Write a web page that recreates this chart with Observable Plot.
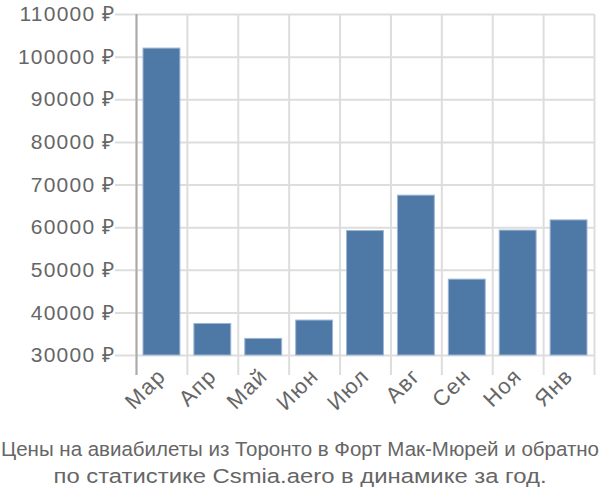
<!DOCTYPE html>
<html>
<head>
<meta charset="utf-8">
<script src="https://cdn.jsdelivr.net/npm/d3@7"></script>
<script src="https://cdn.jsdelivr.net/npm/@observablehq/plot@0.6"></script>
<style>
  body { margin: 0; background: #fff; }
  #chart svg { display: block; }
  #caption { width: 600px; }
</style>
</head>
<body>
<div id="chart"></div>
<div id="caption"></div>
<script>
const months = ["Мар", "Апр", "Май", "Июн", "Июл", "Авг", "Сен", "Ноя", "Янв"];
const prices = [102000, 37400, 33900, 38200, 59200, 67500, 47800, 59300, 61700];
const yTicks = [30000, 40000, 50000, 60000, 70000, 80000, 90000, 100000, 110000];
const captionLines = [
  "Цены на авиабилеты из Торонто в Форт Мак-Мюрей и обратно",
  "по статистике Csmia.aero в динамике за год."
];

const data = months.map((m, i) => ({month: m, price: prices[i]}));

const W = 600, ML = 136, MR = 6;
const step = (W - ML - MR) / months.length;
const font = "Liberation Sans, Arial, sans-serif";

const chart = Plot.plot({
  width: W,
  height: 430,
  marginLeft: ML,
  marginRight: MR,
  marginTop: 14,
  marginBottom: 75,
  style: {fontFamily: font, fontSize: "21px", color: "#666", background: "#fff", letterSpacing: "1.2px"},
  x: {domain: months, padding: 0, round: false, label: null},
  y: {domain: [30000, 110000], label: null},
  marks: [
    Plot.gridY(yTicks, {stroke: "#ddd", strokeOpacity: 1, strokeWidth: 2, insetLeft: -21}),
    Plot.ruleX(months, {x: d => d, dx: -step / 2, stroke: "#ddd", strokeWidth: 2, insetBottom: -20}),
    Plot.ruleX([months[months.length - 1]], {x: d => d, dx: step / 2, stroke: "#ddd", strokeWidth: 2, insetBottom: -20}),
    Plot.ruleX([months[0]], {x: d => d, dx: -step / 2, stroke: "#aaa", strokeWidth: 2, insetBottom: -20}),
    Plot.barY(data, {x: "month", y1: 30000, y2: "price", fill: "#4e79a7", stroke: "#9db6d3", strokeWidth: 1, insetLeft: 7, insetRight: 7}),
    Plot.axisY(yTicks, {tickSize: 0, tickPadding: 21, tickFormat: d => d + " ₽", fill: "#666", fontSize: 21, label: null}),
    Plot.axisX({tickSize: 0, tickPadding: 17, tickRotate: -45, fill: "#666", fontSize: 22, label: null})
  ]
});
document.getElementById("chart").appendChild(chart);

const widths = [598, 493];
const cap = d3.select("#caption").append("svg").attr("width", 600).attr("height", 70)
  .style("display", "block");
cap.selectAll("text").data(captionLines).join("text")
  .attr("x", 300)
  .attr("y", (d, i) => 26 + i * 27)
  .attr("text-anchor", "middle")
  .attr("fill", "#666")
  .attr("font-family", font)
  .attr("font-size", 20.5)
  .attr("textLength", (d, i) => widths[i])
  .attr("lengthAdjust", "spacingAndGlyphs")
  .text(d => d);
</script>
</body>
</html>
